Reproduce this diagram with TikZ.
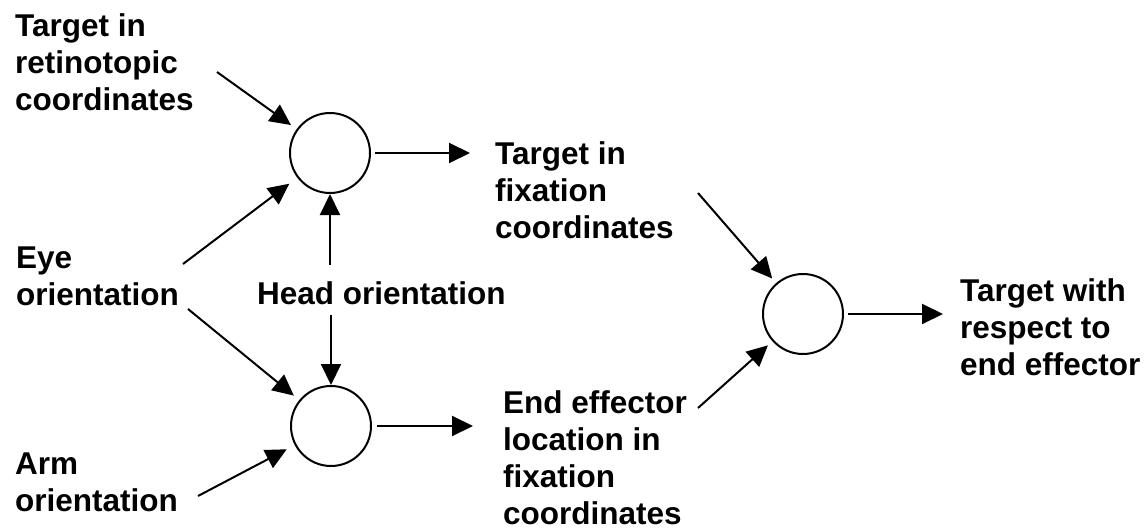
\documentclass[tikz,border=0pt]{standalone}
\usepackage{fontspec}
\setmainfont{Liberation Sans}
\usetikzlibrary{arrows.meta}

\begin{document}
\begin{tikzpicture}[x=1pt, y=-1pt,
  txt/.style={anchor=north west, inner sep=0pt, align=left,
    font=\fontsize{31.5}{37}\selectfont\bfseries},
  unit/.style={circle, draw, line width=2pt, minimum size=80pt, inner sep=0pt},
  arr/.style={-{Triangle[length=21pt,width=20pt]}, line width=2pt}]
  \useasboundingbox (0,0) rectangle (1144,530);

  % Labels
  \node[txt] (ret) at (15,13) {Target in\\retinotopic\\coordinates};
  \node[txt] (eye) at (16,247) {Eye\\orientation};
  \node[txt] (arm) at (15,453) {Arm\\orientation};
  \node[txt] (head) at (257,281) {Head orientation};
  \node[txt] (fix) at (495,141) {Target in\\fixation\\coordinates};
  \node[txt] (eeloc) at (503,390) {End effector\\location in\\fixation\\coordinates};
  \node[txt] (res) at (960,278) {Target with\\respect to\\end effector};

  % Units
  \node[unit] (c1) at (330,153) {};
  \node[unit] (c2) at (331,426) {};
  \node[unit] (c3) at (803,314) {};

  % Free ends of the connectors
  \coordinate (retout) at (217,72);
  \coordinate (eyeup) at (183,264);
  \coordinate (eyedown) at (188,309);
  \coordinate (armout) at (198,496);
  \coordinate (headup) at (330,265);
  \coordinate (headdown) at (331,315);
  \coordinate (fixin) at (470,153);
  \coordinate (eein) at (473,426);
  \coordinate (fixout) at (698,193);
  \coordinate (eeout) at (698,408);
  \coordinate (resin) at (943,314);

  \draw[arr, shorten >=7pt] (retout) -- (c1);
  \draw[arr, shorten >=10pt] (eyeup) -- (c1);
  \draw[arr] (headup) -- (c1);
  \draw[arr, shorten <=4pt] (c1) -- (fixin);

  \draw[arr, shorten >=7pt] (eyedown) -- (c2);
  \draw[arr, shorten >=9pt] (armout) -- (c2);
  \draw[arr] (headdown) -- (c2);
  \draw[arr, shorten <=5pt] (c2) -- (eein);

  \draw[arr, shorten >=6pt] (fixout) -- (c3);
  \draw[arr, shorten >=6pt] (eeout) -- (c3);
  \draw[arr, shorten <=4pt] (c3) -- (resin);
\end{tikzpicture}
\end{document}
